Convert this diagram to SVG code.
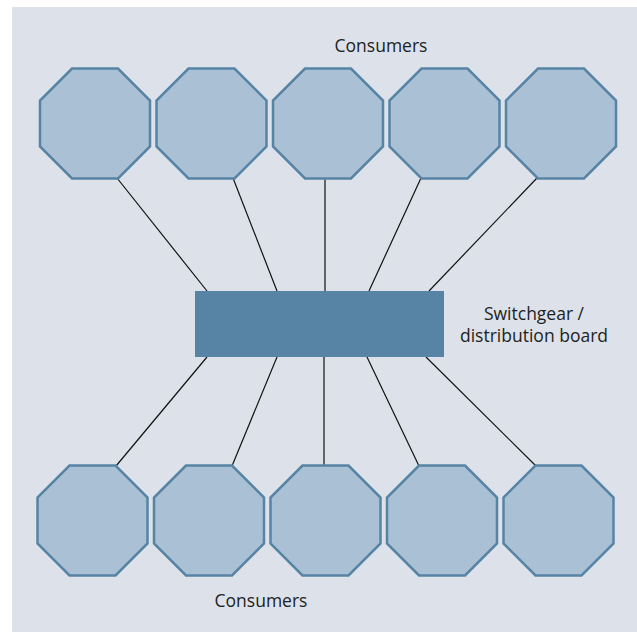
<svg xmlns="http://www.w3.org/2000/svg" width="637" height="632" viewBox="0 0 637 632">
  <defs>
    <style>
      .bg { fill: #dde2ea; }
      .oct { fill: #aac0d5; stroke: #5784a5; stroke-width: 2.5; stroke-linejoin: miter; }
      .board { fill: #5784a5; }
      .conn line { stroke: #111; stroke-width: 1.2; }
      .lbl { font-family: "Open Sans", "Noto Sans", sans-serif; font-size: 17.5px; fill: #222; }
    </style>
    <polygon id="octshape" points="32,0 78,0 110,32 110,78 78,110 32,110 0,78 0,32"/>
  </defs>
  <rect class="bg" x="12" y="7" width="625" height="625"/>

  <g id="connectors" class="conn">
    <line x1="117" y1="178" x2="207" y2="291"/>
    <line x1="233" y1="178" x2="277" y2="291"/>
    <line x1="325" y1="178" x2="325" y2="291"/>
    <line x1="421" y1="178" x2="369" y2="291"/>
    <line x1="537" y1="178" x2="429" y2="291"/>
    <line x1="207" y1="357" x2="116" y2="466"/>
    <line x1="277" y1="357" x2="232" y2="466"/>
    <line x1="324" y1="357" x2="324" y2="466"/>
    <line x1="367" y1="357" x2="419" y2="466"/>
    <line x1="426" y1="357" x2="536" y2="466"/>
  </g>

  <g id="top-consumer-1"><use href="#octshape" class="oct" x="40" y="68.5"/></g>
  <g id="top-consumer-2"><use href="#octshape" class="oct" x="156.5" y="68.5"/></g>
  <g id="top-consumer-3"><use href="#octshape" class="oct" x="273" y="68.5"/></g>
  <g id="top-consumer-4"><use href="#octshape" class="oct" x="389.5" y="68.5"/></g>
  <g id="top-consumer-5"><use href="#octshape" class="oct" x="506" y="68.5"/></g>

  <g id="bottom-consumer-1"><use href="#octshape" class="oct" x="37.5" y="465.5"/></g>
  <g id="bottom-consumer-2"><use href="#octshape" class="oct" x="154" y="465.5"/></g>
  <g id="bottom-consumer-3"><use href="#octshape" class="oct" x="270.5" y="465.5"/></g>
  <g id="bottom-consumer-4"><use href="#octshape" class="oct" x="387" y="465.5"/></g>
  <g id="bottom-consumer-5"><use href="#octshape" class="oct" x="503.5" y="465.5"/></g>

  <g id="switchgear">
    <rect class="board" x="195" y="291" width="249" height="66"/>
    <text class="lbl" x="534" y="320" text-anchor="middle">Switchgear /</text>
    <text class="lbl" x="534" y="342" text-anchor="middle">distribution board</text>
  </g>

  <g id="label-top"><text class="lbl" x="381" y="52" text-anchor="middle">Consumers</text></g>
  <g id="label-bottom"><text class="lbl" x="261" y="607" text-anchor="middle">Consumers</text></g>
</svg>
